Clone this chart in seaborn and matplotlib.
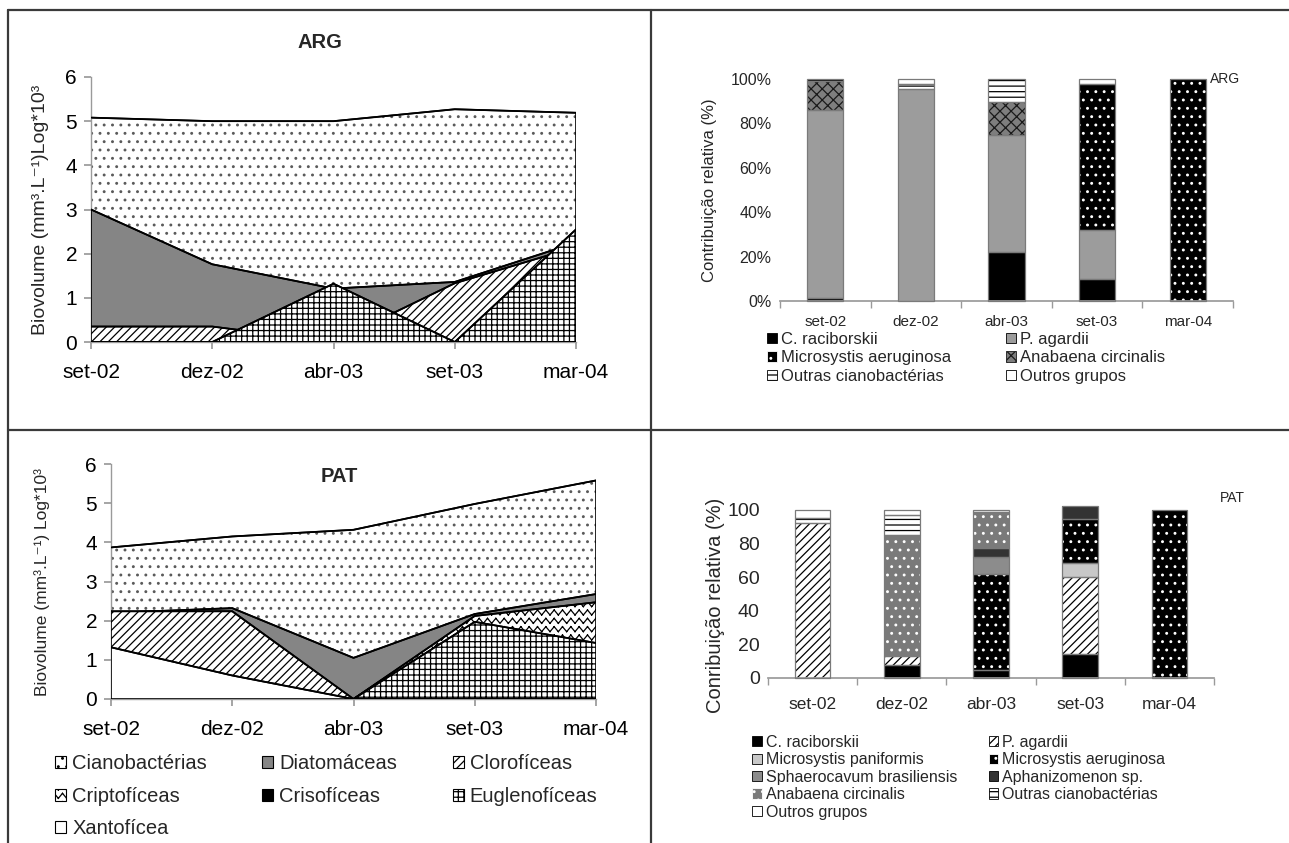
import warnings
warnings.filterwarnings('ignore')
import numpy as np
import matplotlib
matplotlib.use('Agg')
import matplotlib.pyplot as plt
import matplotlib.patches as mpatches
from matplotlib.lines import Line2D
from matplotlib.path import Path
from matplotlib import hatch as mhatch
import seaborn as sns

# ---------------- data ----------------
dates = ['set-02', 'dez-02', 'abr-03', 'set-03', 'mar-04']
groups = ['Cianobactérias', 'Diatomáceas', 'Clorofíceas', 'Criptofíceas',
          'Crisofíceas', 'Euglenofíceas', 'Xantofícea']

arg_ciano = [5.08, 5.00, 5.00, 5.27, 5.19]
arg_diatom = [3.00, 1.76, 1.21, 1.36, 2.25]
arg_cloro = [0.35, 0.35, 0.00, 1.33, 2.15]
arg_cripto = [0, 0, 0, 0, 0]
arg_criso = [0, 0, 0, 0, 0]
arg_eugleno = [0, 0, 1.32, 0, 2.55]
arg_xanto = [0, 0, 0, 0, 0]

pat_ciano = [3.87, 4.15, 4.32, 4.98, 5.58]
pat_diatom = [2.20, 2.32, 1.05, 2.17, 2.68]
pat_cloro = [2.24, 2.24, 0.00, 2.05, 1.40]
pat_cripto = [0, 0, 0, 2.12, 2.47]
pat_criso = [0, 0, 0, 0, 0]
pat_eugleno = [0, 0, 0, 1.97, 1.43]
pat_xanto = [1.32, 0.60, 0, 0, 0]

arg_species = ['C. raciborskii', 'P. agardii', 'Microsystis aeruginosa',
               'Anabaena circinalis', 'Outras cianobactérias', 'Outros grupos']
arg_crac = [1.5, 0, 22, 10, 0]
arg_pag = [84.5, 95.3, 53, 22, 0]
arg_maer = [0, 0, 0, 65.7, 100]
arg_anab = [13, 0, 14.5, 0, 0]
arg_outras = [1, 2.4, 10.5, 0, 0]
arg_outros = [0, 2.3, 0, 2.3, 0]

pat_species = ['C. raciborskii', 'P. agardii', 'Microsystis paniformis',
               'Microsystis aeruginosa', 'Sphaerocavum brasiliensis',
               'Aphanizomenon sp.', 'Anabaena circinalis',
               'Outras cianobactérias', 'Outros grupos']
pat_crac = [0, 7.5, 5, 14.5, 0]
pat_pag = [92, 5.5, 0, 45.5, 0]
pat_mpan = [0, 0, 0, 8.7, 0]
pat_maer = [0, 0, 57, 26, 100]
pat_sph = [0, 0, 10, 0, 0]
pat_aph = [0, 0, 5.5, 7.7, 0]
pat_anab = [0, 72, 21.5, 0, 0]
pat_outras = [3, 12, 0, 0, 0]
pat_outros = [5, 3, 1, 0, 0]


# ---------------- custom zigzag hatch (separate segments, no fill) ----------
class ZigZagHatch(mhatch.HatchPatternBase):
    def __init__(self, hatch, density):
        self.num_rows = int(hatch.count('z') * density)
        self.n_seg = self.num_rows * 2
        self.num_vertices = self.num_rows * self.n_seg * 2 if self.num_rows else 0

    def set_vertices_and_codes(self, vertices, codes):
        nr, ns = self.num_rows, self.n_seg
        xs = np.linspace(0, 1, ns + 1)
        amp = 0.3 / nr
        off = np.where(np.arange(ns + 1) % 2 == 0, -amp, amp)
        k = 0
        for r in range(nr):
            y0 = (r + 0.5) / nr
            ys = y0 + off
            for s in range(ns):
                vertices[k] = (xs[s], ys[s])
                vertices[k + 1] = (xs[s + 1], ys[s + 1])
                codes[k] = Path.MOVETO
                codes[k + 1] = Path.LINETO
                k += 2


mhatch._hatch_types.append(ZigZagHatch)

# ---------------- style ----------------
sns.set_theme(style='white')
FONT = ['Liberation Sans', 'DejaVu Sans']
plt.rcParams['font.family'] = FONT
plt.rcParams['hatch.linewidth'] = 0.9
plt.rcParams['axes.edgecolor'] = '#808080'

W, H = 1289, 843
fig = plt.figure(figsize=(W / 100, H / 100), dpi=100)


def ax_px(x0, y0, x1, y1):
    return fig.add_axes([x0 / W, 1 - y1 / H, (x1 - x0) / W, (y1 - y0) / H])


area_styles = [
    dict(fc='white', hatch='..', hc='#5a5a5a'),   # Cianobactérias
    dict(fc='#858585', hatch=None, hc='black'),   # Diatomáceas
    dict(fc='white', hatch='////', hc='black'),   # Clorofíceas
    dict(fc='white', hatch='zz', hc='black'),     # Criptofíceas
    dict(fc='black', hatch=None, hc='black'),     # Crisofíceas
    dict(fc='white', hatch='+++', hc='black'),    # Euglenofíceas
    dict(fc='white', hatch=None, hc='black'),     # Xantofícea
]


def area_panel(ax, series, ylabel, ylab_size):
    x = np.arange(len(dates))
    for i, (vals, st) in enumerate(zip(series, area_styles)):
        verts = [(x[0], 0)] + list(zip(x, vals)) + [(x[-1], 0)]
        ax.add_patch(mpatches.Polygon(verts, closed=True, facecolor=st['fc'],
                                      edgecolor=st['hc'], hatch=st['hatch'],
                                      linewidth=0, zorder=2 + 2 * i))
        ax.add_patch(mpatches.Polygon(verts, closed=True, fill=False,
                                      edgecolor='black', linewidth=1.2,
                                      zorder=2 + 2 * i))
        sns.lineplot(x=x, y=vals, ax=ax, color='black', linewidth=1.3,
                     zorder=3 + 2 * i, legend=False)
    ax.set_xlim(0, 4)
    ax.set_ylim(0, 6)
    ax.set_xticks(x)
    ax.set_xticklabels(dates)
    ax.set_yticks(range(7))
    for s in ['top', 'right']:
        ax.spines[s].set_visible(False)
    for s in ['left', 'bottom']:
        ax.spines[s].set_color('#9a9a9a')
        ax.spines[s].set_linewidth(1.0)
    ax.tick_params(axis='both', which='both', direction='out', length=5,
                   color='#9a9a9a', labelsize=15, labelcolor='black')
    ax.tick_params(axis='x', pad=10, bottom=True)
    ax.tick_params(axis='y', pad=5, left=True)
    ax.set_ylabel(ylabel, fontsize=ylab_size, family=FONT)
    ax.set_xlabel('')


# ---- ARG area ----
axA = ax_px(91, 77, 576, 342)
area_panel(axA, [arg_ciano, arg_diatom, arg_cloro, arg_cripto, arg_criso,
                 arg_eugleno, arg_xanto],
           'Biovolume (mm³.L⁻¹)Log*10³', 14)
axA.yaxis.set_label_coords(-0.087, 0.5)
fig.text(320 / W, 1 - 43 / H, 'ARG', ha='center', va='center',
         fontsize=14.5, fontweight='bold')

# ---- PAT area ----
axP = ax_px(111, 464, 596, 699)
area_panel(axP, [pat_ciano, pat_diatom, pat_cloro, pat_cripto, pat_criso,
                 pat_eugleno, pat_xanto],
           'Biovolume (mm³.L⁻¹) Log*10³', 12.5)
axP.yaxis.set_label_coords(-0.125, 0.5)
fig.text(339 / W, 1 - 477 / H, 'PAT', ha='center', va='center',
         fontsize=14.5, fontweight='bold')

handles = [mpatches.Patch(facecolor=st['fc'], edgecolor='black',
                          hatch=st['hatch'], linewidth=0.8, label=g)
           for g, st in zip(groups, area_styles)]
order = [0, 3, 6, 1, 4, 2, 5]
fig.legend([handles[i] for i in order], [groups[i] for i in order],
           loc='upper left', bbox_to_anchor=(55 / W, 1 - 754 / H), ncol=3,
           frameon=False, fontsize=14.5, handlelength=0.55, handleheight=0.55,
           handletextpad=0.3, columnspacing=2.75, labelspacing=0.68,
           borderpad=0, borderaxespad=0)


# ---------------- bars ----------------
def bar_panel(ax, layers, styles, ylab, ylab_size, ytick_size, xtick_size,
              pct, xpad):
    x = np.arange(len(dates))
    bottom = np.zeros(len(dates))
    for vals, st in zip(layers, styles):
        vals = np.asarray(vals, dtype=float)
        ax.bar(x, vals, width=0.4, bottom=bottom, color=st['fc'],
               edgecolor=st.get('hc', 'black'), hatch=st.get('hatch'),
               linewidth=0, zorder=2, clip_on=False)
        m = vals > 0
        ax.bar(x[m], vals[m], width=0.4, bottom=bottom[m], fill=False,
               edgecolor='#7a7a7a', linewidth=0.9, zorder=3, clip_on=False)
        bottom = bottom + vals
    ax.set_xlim(-0.5, 4.5)
    ax.set_ylim(0, 100)
    ax.set_yticks(range(0, 101, 20))
    if pct:
        ax.set_yticklabels([f'{v}%' for v in range(0, 101, 20)])
    ax.set_xticks(x)
    ax.set_xticklabels(dates)
    ax.set_xticks(np.arange(-0.5, 5, 1), minor=True)
    for s in ['top', 'right', 'left']:
        ax.spines[s].set_visible(False)
    ax.spines['bottom'].set_color('#9a9a9a')
    ax.tick_params(axis='x', which='major', length=0, labelsize=xtick_size,
                   pad=xpad)
    ax.tick_params(axis='x', which='minor', length=5, color='#9a9a9a',
                   direction='out', bottom=True)
    ax.tick_params(axis='y', length=0, labelsize=ytick_size, pad=6)
    ax.set_ylabel(ylab, fontsize=ylab_size)
    ax.set_xlabel('')


arg_styles = [
    dict(fc='black'),
    dict(fc='#9c9c9c'),
    dict(fc='black', hatch='..', hc='white'),
    dict(fc='#7e7e7e', hatch='xxx', hc='#1a1a1a'),
    dict(fc='white', hatch='---', hc='black'),
    dict(fc='white'),
]
axB = ax_px(780, 79, 1233, 301)
bar_panel(axB, [arg_crac, arg_pag, arg_maer, arg_anab, arg_outras, arg_outros],
          arg_styles, 'Contribuição relativa (%)', 12, 11.5, 11, True, 10)
axB.yaxis.set_label_coords(-0.14, 0.5)
fig.text(1210 / W, 1 - 79 / H, 'ARG', ha='left', va='center', fontsize=10)

hB = [mpatches.Patch(facecolor=st['fc'], edgecolor=st.get('hc', 'black'),
                     hatch=st.get('hatch'), linewidth=0.6)
      for st in arg_styles]
ordB = [0, 2, 4, 1, 3, 5]
fig.legend([hB[i] for i in ordB], [arg_species[i] for i in ordB],
           loc='upper left', bbox_to_anchor=(767 / W, 1 - 332 / H), ncol=2,
           frameon=False, fontsize=12, handlelength=0.6, handleheight=0.6,
           handletextpad=0.25, columnspacing=3.3, labelspacing=0.2,
           borderpad=0, borderaxespad=0)

pat_styles = [
    dict(fc='black'),
    dict(fc='white', hatch='////', hc='black'),
    dict(fc='#c8c8c8'),
    dict(fc='black', hatch='..', hc='white'),
    dict(fc='#8c8c8c'),
    dict(fc='#333333'),
    dict(fc='#7a7a7a', hatch='..', hc='white'),
    dict(fc='white', hatch='---', hc='black'),
    dict(fc='white'),
]
axC = ax_px(768, 510, 1214, 678)
bar_panel(axC, [pat_crac, pat_pag, pat_mpan, pat_maer, pat_sph, pat_aph,
                pat_anab, pat_outras, pat_outros],
          pat_styles, 'Conribuição relativa (%)', 14.5, 14, 12.5, False, 14)
axC.yaxis.set_label_coords(-0.097, 0.43)
fig.text(1220 / W, 1 - 498 / H, 'PAT', ha='left', va='center', fontsize=10)

hC = [mpatches.Patch(facecolor=st['fc'], edgecolor=st.get('hc', 'black'),
                     hatch=st.get('hatch'), linewidth=0.6)
      for st in pat_styles]
ordC = [0, 2, 4, 6, 8, 1, 3, 5, 7]
fig.legend([hC[i] for i in ordC], [pat_species[i] for i in ordC],
           loc='upper left', bbox_to_anchor=(752 / W, 1 - 735 / H), ncol=2,
           frameon=False, fontsize=11.5, handlelength=0.6, handleheight=0.6,
           handletextpad=0.25, columnspacing=2.0, labelspacing=0.15,
           borderpad=0, borderaxespad=0)

# ---------------- frame lines ----------------
lc = '#3a3a3a'
lw = 1.6
fig.add_artist(Line2D([8 / W, 1], [1 - 10 / H, 1 - 10 / H], color=lc, lw=lw))
fig.add_artist(Line2D([8 / W, 8 / W], [1 - 10 / H, 0], color=lc, lw=lw))
fig.add_artist(Line2D([651 / W, 651 / W], [1 - 10 / H, 0], color=lc, lw=lw))
fig.add_artist(Line2D([8 / W, 1], [1 - 430 / H, 1 - 430 / H], color=lc, lw=lw))

fig.savefig('out.png', dpi=100, facecolor='white')
